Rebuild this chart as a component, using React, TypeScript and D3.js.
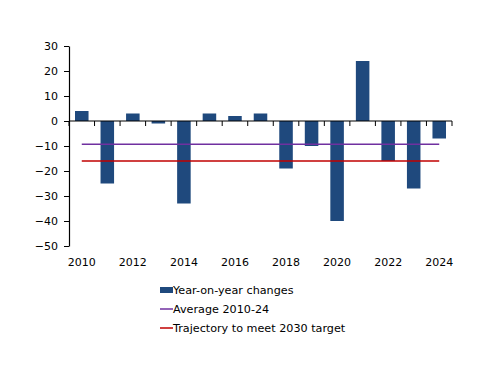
import { useEffect, useRef } from "react";
import * as d3 from "d3";

const years = [
  "2010", "2011", "2012", "2013", "2014", "2015", "2016", "2017",
  "2018", "2019", "2020", "2021", "2022", "2023", "2024",
];
const changes = [4, -25, 3, -1, -33, 3, 2, 3, -19, -10, -40, 24, -16, -27, -7];
const averageValue = -9.3;
const trajectoryValue = -16;
const yTicks = [30, 20, 10, 0, -10, -20, -30, -40, -50];
const legendLabels = [
  "Year-on-year changes",
  "Average 2010-24",
  "Trajectory to meet 2030 target",
];

const App = () => {
  const chartRef = useRef<SVGSVGElement | null>(null);

  useEffect(() => {
    if (!chartRef.current) return;
    const width = 500;
    const height = 386;
    const margin = { top: 46, left: 69, right: 48, bottom: 140 };
    const font = "DejaVu Sans, sans-serif";

    const svg = d3.select(chartRef.current);
    svg.selectAll("*").remove();

    const xScale = d3
      .scaleBand()
      .domain(years)
      .range([margin.left, width - margin.right])
      .paddingInner(0.47)
      .paddingOuter(0.235);

    const yScale = d3
      .scaleLinear()
      .domain([-50, 30])
      .range([height - margin.bottom, margin.top]);

    const bandStep = xScale.step();
    const bw = xScale.bandwidth();

    // bars
    svg
      .append("g")
      .selectAll("rect")
      .data(changes)
      .join("rect")
      .attr("x", (_, i) => xScale(years[i])!)
      .attr("y", (d) => yScale(Math.max(0, d)))
      .attr("width", bw)
      .attr("height", (d) => Math.abs(yScale(d) - yScale(0)))
      .attr("fill", "#1f497d");

    // reference lines
    const lineX1 = xScale(years[0])! + bw / 2;
    const lineX2 = xScale(years[years.length - 1])! + bw / 2;
    const refs = [
      { v: averageValue, c: "#7030a0" },
      { v: trajectoryValue, c: "#c00000" },
    ];
    svg
      .append("g")
      .selectAll("line")
      .data(refs)
      .join("line")
      .attr("x1", lineX1)
      .attr("x2", lineX2)
      .attr("y1", (d) => yScale(d.v))
      .attr("y2", (d) => yScale(d.v))
      .attr("stroke", (d) => d.c)
      .attr("stroke-width", 1.5);

    // y axis
    const yAxis = svg
      .append("g")
      .attr("transform", `translate(${margin.left},0)`)
      .call(
        d3
          .axisLeft(yScale)
          .tickValues(yTicks)
          .tickSize(5)
          .tickSizeOuter(0)
          .tickPadding(6)
      );
    yAxis.select(".domain").attr("stroke", "#000").attr("stroke-width", 1.2);
    yAxis.selectAll("line").attr("stroke", "#000");
    yAxis
      .selectAll("text")
      .attr("font-family", font)
      .attr("font-size", 11)
      .attr("fill", "#000");

    // zero line with ticks at band boundaries
    const zeroY = yScale(0);
    const x0 = margin.left;
    const xEnd = width - margin.right;
    svg
      .append("line")
      .attr("x1", x0)
      .attr("x2", xEnd)
      .attr("y1", zeroY)
      .attr("y2", zeroY)
      .attr("stroke", "#000")
      .attr("stroke-width", 1.2);
    svg
      .append("g")
      .selectAll("line")
      .data(d3.range(years.length + 1))
      .join("line")
      .attr("x1", (i) => x0 + i * bandStep)
      .attr("x2", (i) => x0 + i * bandStep)
      .attr("y1", zeroY)
      .attr("y2", zeroY + 5)
      .attr("stroke", "#000");

    // x labels at the bottom, every other year
    svg
      .append("g")
      .selectAll("text")
      .data(years.filter((_, i) => i % 2 === 0))
      .join("text")
      .attr("x", (d) => xScale(d)! + bw / 2)
      .attr("y", yScale(-50) + 20)
      .attr("text-anchor", "middle")
      .attr("font-family", font)
      .attr("font-size", 11)
      .text((d) => d);

    // legend
    const legend = svg.append("g").attr("transform", "translate(160,290)");
    const rowH = 19;
    legend
      .append("rect")
      .attr("x", 0)
      .attr("y", -3)
      .attr("width", 13)
      .attr("height", 6)
      .attr("fill", "#1f497d");
    refs.forEach((r, i) => {
      legend
        .append("line")
        .attr("x1", 0)
        .attr("x2", 13)
        .attr("y1", (i + 1) * rowH)
        .attr("y2", (i + 1) * rowH)
        .attr("stroke", r.c)
        .attr("stroke-width", 1.5);
    });
    legend
      .selectAll("text")
      .data(legendLabels)
      .join("text")
      .attr("x", 13)
      .attr("y", (_, i) => i * rowH)
      .attr("dy", "0.36em")
      .attr("font-family", font)
      .attr("font-size", 11.2)
      .text((d) => d);
  }, []);

  return (
    <svg
      ref={chartRef}
      width={500}
      height={386}
      style={{ position: "absolute", left: 0, top: 0, background: "#fff" }}
    />
  );
};

export default App;
